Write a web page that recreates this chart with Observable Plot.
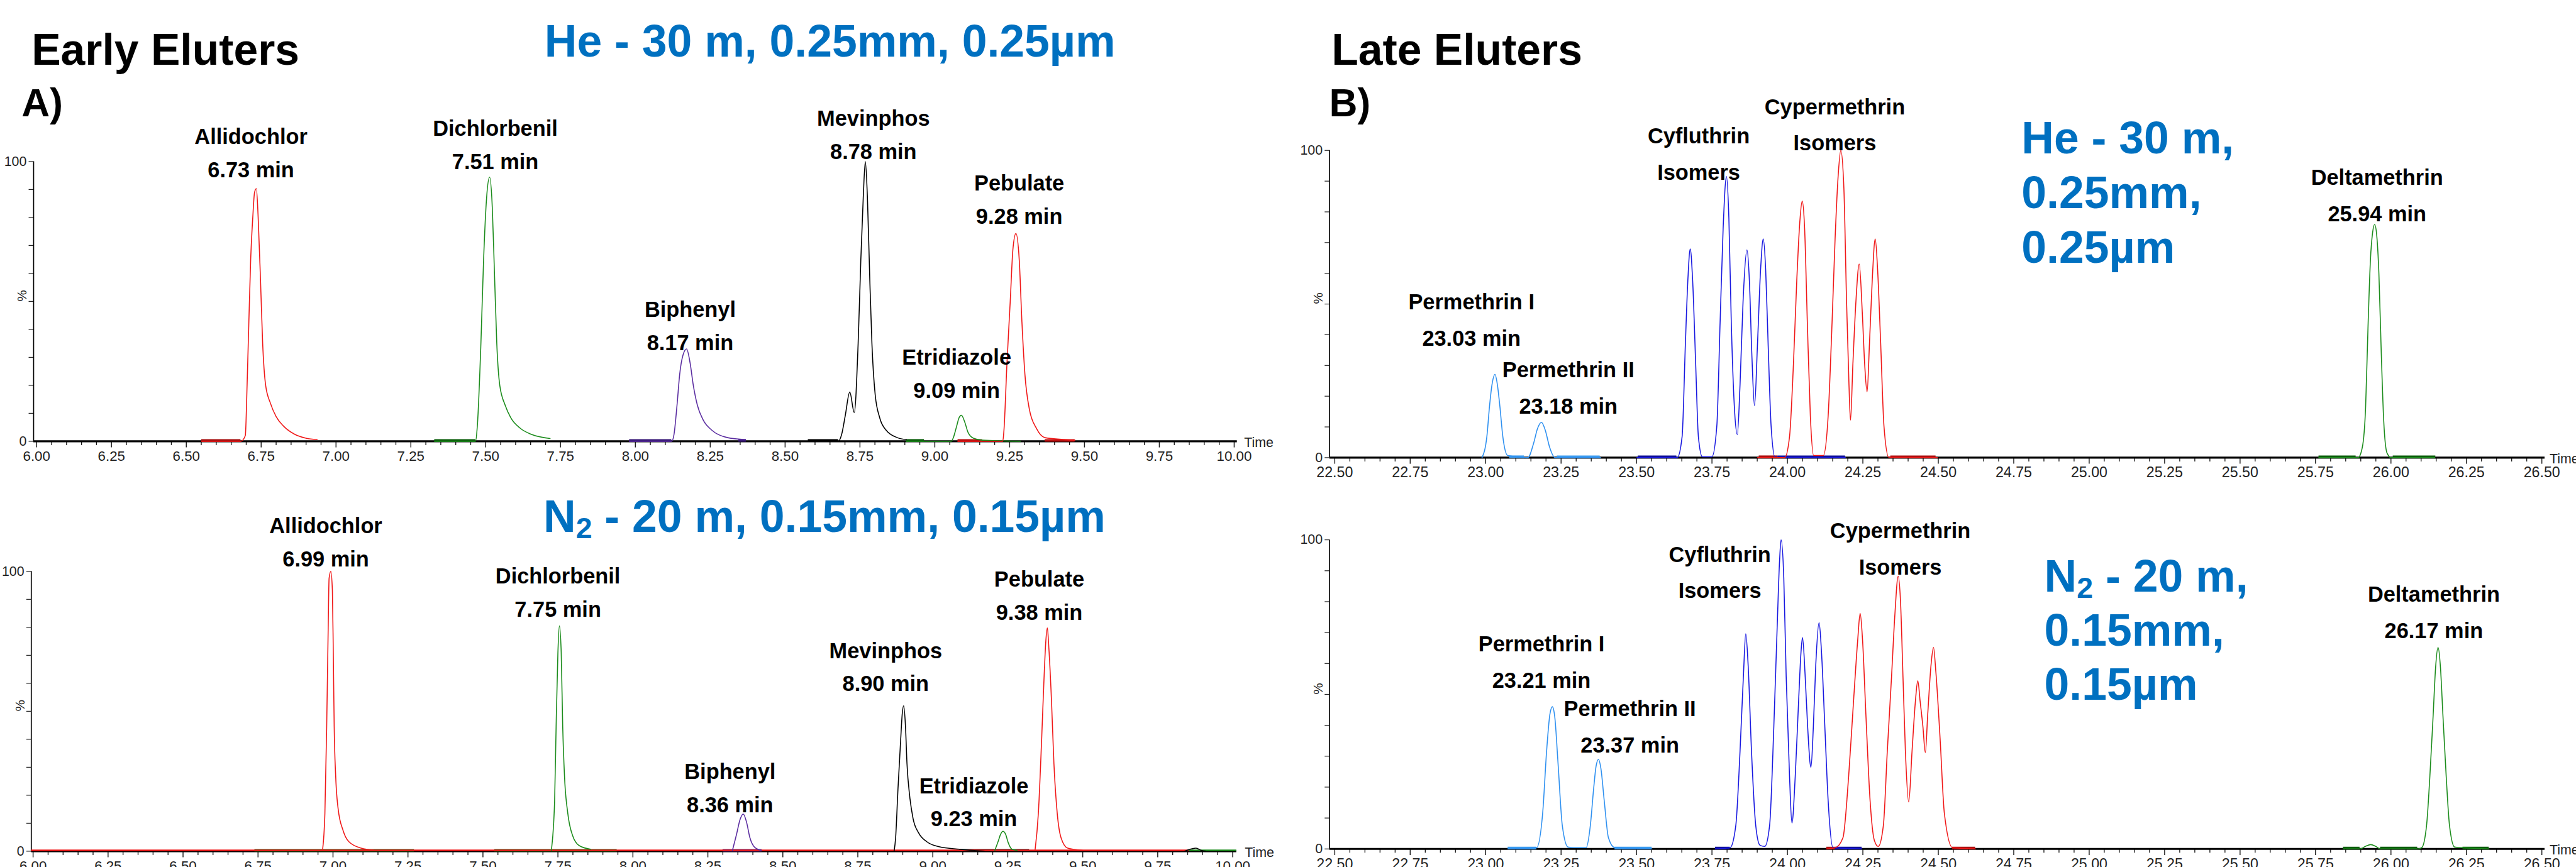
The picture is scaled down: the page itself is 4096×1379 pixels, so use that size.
<!DOCTYPE html>
<html><head><meta charset="utf-8">
<script src="https://cdn.jsdelivr.net/npm/d3@7"></script>
<script src="https://cdn.jsdelivr.net/npm/@observablehq/plot@0.6"></script>
<style>
html,body{margin:0;padding:0;background:#fff;}
#page{position:relative;width:4096px;height:1379px;overflow:hidden;font-family:"Liberation Sans",Arial,sans-serif;background:#fff;}
.t{position:absolute;white-space:nowrap;font-weight:bold;line-height:1;}
.t sub{font-size:0.65em;vertical-align:-0.22em;line-height:0;}
.plot{position:absolute;}
</style></head><body><div id="page"></div>
<script>
// ---------------- DATA ----------------
const earlyTicks = [6.00,6.25,6.50,6.75,7.00,7.25,7.50,7.75,8.00,8.25,8.50,8.75,9.00,9.25,9.50,9.75,10.00];
const lateTicks = [22.50,22.75,23.00,23.25,23.50,23.75,24.00,24.25,24.50,24.75,25.00,25.25,25.50,25.75,26.00,26.25,26.50];
const pctTicks = [0,10,20,30,40,50,60,70,80,90,100];
const pctLabelled = [0,100];

// He, early eluters: [compound, [[time(min), intensity(%)]...]]
const heEarlyTraces = [
  ["Allidochlor", [[6.551,0],[6.682,0],[6.697,2],[6.703,20],[6.709,43],[6.715,65],[6.722,80],[6.728,89],[6.734,90.3],[6.740,80],[6.748,57],[6.755,35],[6.765,20],[6.781,13.6],[6.800,8.8],[6.825,5.4],[6.862,2.5],[6.900,1.1],[6.937,0.6]]],
  ["Dichlorbenil", [[7.329,0],[7.466,0],[7.472,5.4],[7.484,35],[7.493,65],[7.503,87],[7.513,94.4],[7.522,83.6],[7.529,61],[7.537,35],[7.547,20],[7.565,12.9],[7.584,8.4],[7.615,4.7],[7.652,2.5],[7.715,1]]],
  ["Biphenyl", [[7.980,0],[8.121,0],[8.129,2.5],[8.139,12.9],[8.148,24],[8.159,30.8],[8.171,33],[8.183,27.8],[8.193,20.3],[8.207,12.9],[8.226,7.7],[8.256,3.9],[8.308,1.3],[8.368,0.6]]],
  ["Mevinphos", [[8.577,0],[8.678,0],[8.689,2.5],[8.701,9.2],[8.716,17.6],[8.731,10.3],[8.744,35],[8.753,65],[8.761,87],[8.768,100],[8.775,87],[8.783,57.5],[8.790,35],[8.801,16.6],[8.816,8.4],[8.838,3.9],[8.875,1.3],[8.905,0.6]]],
  ["Etridiazole", [[8.905,0],[9.055,0],[9.062,1.3],[9.073,5.4],[9.081,8.4],[9.089,9.3],[9.100,6.9],[9.111,3.2],[9.129,1.1],[9.159,0.4],[9.286,0]]],
  ["Pebulate", [[9.077,0],[9.227,0],[9.231,3.9],[9.241,27.8],[9.252,50],[9.261,68.7],[9.271,74.3],[9.282,65],[9.291,42.7],[9.301,24],[9.316,11.4],[9.339,4.7],[9.368,1.3],[9.468,0.4]]]
];
const heEarlyMarkers = [[6.551,6.682,"Allidochlor"],[7.329,7.466,"Dichlorbenil"],[7.980,8.121,"Biphenyl"],[8.345,8.370,"Biphenyl"],[8.577,8.678,"Mevinphos"],[8.905,8.965,"Etridiazole"],[9.077,9.159,"Pebulate"],[9.368,9.468,"Pebulate"]];
const heEarlyLabels = [["Allidochlor","6.73 min",6.716,114.7],["Dichlorbenil","7.51 min",7.532,117.6],["Biphenyl","8.17 min",8.183,52.9],["Mevinphos","8.78 min",8.795,121.2],["Etridiazole","9.09 min",9.073,35.8],["Pebulate","9.28 min",9.282,98.0]];

// N2, early eluters
const n2EarlyTraces = [
  ["Allidochlor", [[6.965,0.3],[6.973,13.5],[6.979,44.5],[6.984,79.8],[6.987,97.5],[6.993,100],[6.998,93.1],[7.001,71],[7.004,44.5],[7.009,26.8],[7.017,15.3],[7.034,7.3],[7.053,3.4],[7.094,1.1],[7.135,0.4]]],
  ["Dichlorbenil", [[7.728,0.3],[7.739,17.9],[7.744,44.5],[7.750,71],[7.755,80.5],[7.761,71],[7.766,44.5],[7.772,26.8],[7.783,13.5],[7.799,5.6],[7.821,2.0],[7.859,0.7]]],
  ["Biphenyl", [[8.332,0.3],[8.346,6.2],[8.357,11.2],[8.368,13.3],[8.379,10.4],[8.390,4.9],[8.406,1.4],[8.428,0.3]]],
  ["Mevinphos", [[8.871,0],[8.876,4.7],[8.884,22.4],[8.893,40],[8.898,48.9],[8.903,52],[8.909,44.5],[8.914,31.2],[8.923,19.7],[8.934,11.8],[8.953,6.5],[8.980,3.4],[9.021,1.6],[9.089,0.7],[9.171,0]]],
  ["Etridiazole", [[9.207,0.3],[9.218,3.5],[9.226,6],[9.234,7.1],[9.243,6],[9.251,3.2],[9.264,0.7],[9.281,0.3]]],
  ["Pebulate", [[9.341,0.3],[9.352,13.5],[9.363,40],[9.371,62],[9.377,75.2],[9.382,79.8],[9.387,72.7],[9.396,53.3],[9.404,31.2],[9.415,13.5],[9.428,4.7],[9.450,1.1],[9.499,0.3]]],
  ["Mevinphos", [[9.840,0],[9.862,0.8],[9.878,1.1],[9.895,0.3],[9.910,0]]]
];
const n2EarlyBaselines = [[5.994,9.855,"Pebulate"],[9.855,10.013,"Dichlorbenil"]];
const n2EarlyMarkers = [[6.739,7.271,"Dichlorbenil"],[7.539,7.947,"Dichlorbenil"],[8.300,8.430,"Biphenyl"],[9.089,9.322,"Mevinphos"]];
const n2EarlyLabels = [["Allidochlor","6.99 min",6.976,122.1],["Dichlorbenil","7.75 min",7.750,104.2],["Biphenyl","8.36 min",8.324,34.3],["Mevinphos","8.90 min",8.843,77.5],["Etridiazole","9.23 min",9.137,29.2],["Pebulate","9.38 min",9.355,103.1]];

// He, late eluters
const heLateTraces = [
  ["Permethrin", [[22.988,0],[23.004,6.8],[23.013,16.9],[23.021,23.7],[23.031,27.1],[23.039,23.7],[23.047,16.9],[23.057,6.8],[23.073,0.7],[23.140,0],[23.159,4.7],[23.172,9.5],[23.185,11.5],[23.198,8.8],[23.212,3.4],[23.230,0],[23.381,0]]],
  ["Cyfluthrin", [[23.501,0],[23.635,0],[23.651,6.8],[23.662,37.3],[23.670,57.6],[23.678,67.9],[23.686,57.6],[23.696,30.5],[23.705,6.8],[23.718,0.3],[23.750,0.3],[23.766,10.2],[23.777,44.1],[23.787,74.6],[23.798,91.5],[23.806,78],[23.814,44.1],[23.824,16.9],[23.834,7.5],[23.843,23.7],[23.853,50.8],[23.866,67.6],[23.874,57.6],[23.882,33.9],[23.891,16.9],[23.901,37.3],[23.911,61],[23.920,71.2],[23.928,61],[23.936,37.3],[23.946,10.2],[23.959,0.1],[24.192,0]]],
  ["Cypermethrin", [[23.901,0],[23.991,0],[24.007,6.8],[24.020,30.5],[24.031,57.6],[24.041,76.6],[24.049,83.5],[24.057,74.6],[24.066,44.1],[24.076,13.6],[24.087,0.7],[24.119,0.7],[24.135,13.6],[24.148,44.1],[24.158,71.2],[24.168,91.5],[24.177,100],[24.187,88],[24.196,50.8],[24.204,23.7],[24.209,12.2],[24.217,30.5],[24.227,50.8],[24.238,63],[24.248,47.5],[24.256,30.5],[24.264,21.4],[24.272,37.3],[24.281,57.6],[24.291,71.2],[24.299,61],[24.309,37.3],[24.320,10.2],[24.336,0.1],[24.497,0]]],
  ["Deltamethrin", [[25.761,0],[25.891,0],[25.905,3.3],[25.916,16.4],[25.924,42.6],[25.932,64.4],[25.939,73.1],[25.946,75.9],[25.953,72.2],[25.960,60],[25.968,33.8],[25.976,12],[25.987,1.5],[26.001,0],[26.145,0]]]
];
const heLateMarkers = [[23.079,23.128,"Permethrin"],[23.237,23.379,"Permethrin"],[23.505,23.633,"Cyfluthrin"],[23.906,23.968,"Cypermethrin"],[23.968,24.192,"Cyfluthrin"],[24.342,24.492,"Cypermethrin"],[25.761,25.884,"Deltamethrin"],[26.007,26.148,"Deltamethrin"]];
const heLateLabels = [["Permethrin I","23.03 min",22.953,56.6],["Permethrin II","23.18 min",23.274,34.5],["Cyfluthrin","Isomers",23.706,110.7],["Cypermethrin","Isomers",24.157,120.2],["Deltamethrin","25.94 min",25.954,97.2]];

// N2, late eluters
const n2LateTraces = [
  ["Permethrin", [[23.074,0],[23.169,0.4],[23.189,11.6],[23.202,31.6],[23.213,43.6],[23.221,46],[23.229,42.8],[23.240,27.6],[23.254,7.6],[23.273,0.6],[23.292,0.4],[23.333,0.4],[23.347,7.6],[23.358,19.6],[23.366,26.8],[23.374,29],[23.382,26],[23.393,15.6],[23.407,3.6],[23.428,0.4],[23.551,0]]],
  ["Cyfluthrin", [[23.761,0],[23.810,0.4],[23.829,7.6],[23.843,31.6],[23.854,55.6],[23.862,69.6],[23.870,59.2],[23.881,31.6],[23.895,7.6],[23.909,1.2],[23.925,0.8],[23.941,7.6],[23.955,39.6],[23.966,71.6],[23.974,93.2],[23.979,100],[23.988,87.6],[23.996,55.6],[24.007,23.6],[24.015,8.4],[24.026,23.6],[24.037,47.6],[24.045,63.6],[24.050,68.4],[24.059,55.6],[24.067,39.6],[24.078,26.4],[24.086,39.6],[24.094,59.6],[24.105,73.2],[24.113,63.6],[24.124,39.6],[24.135,15.6],[24.151,0.4],[24.247,0]]],
  ["Cypermethrin", [[24.130,0],[24.159,0.4],[24.184,3.6],[24.203,23.6],[24.219,47.6],[24.233,67.6],[24.241,76.2],[24.249,67.6],[24.260,43.6],[24.274,15.6],[24.288,2.8],[24.301,0.8],[24.318,7.6],[24.331,31.6],[24.345,55.6],[24.356,75.6],[24.367,88.2],[24.375,79.6],[24.383,55.6],[24.391,31.6],[24.402,15.2],[24.413,31.6],[24.424,47.6],[24.432,54.4],[24.440,47.6],[24.449,39.6],[24.457,31.2],[24.465,43.6],[24.476,59.6],[24.484,65.2],[24.492,57.2],[24.506,35.6],[24.520,11.6],[24.547,0.4],[24.623,0]]],
  ["Deltamethrin", [[25.842,0],[25.897,0],[25.915,0.8],[25.933,1.4],[25.950,0.8],[25.965,0],[26.088,0],[26.102,0.4],[26.118,7.6],[26.129,23.6],[26.140,43.6],[26.148,58.8],[26.156,65.2],[26.164,58.8],[26.172,43.6],[26.183,23.6],[26.194,7.6],[26.211,0.6],[26.238,0.4],[26.325,0]]]
];
const n2LateMarkers = [[23.074,23.169,"Permethrin"],[23.428,23.551,"Permethrin"],[23.761,23.810,"Cyfluthrin"],[24.130,24.159,"Cypermethrin"],[24.159,24.247,"Cyfluthrin"],[24.547,24.623,"Cypermethrin"],[25.842,25.897,"Deltamethrin"],[25.965,26.088,"Deltamethrin"],[26.238,26.325,"Deltamethrin"]];
const n2LateLabels = [["Permethrin I","23.21 min",23.185,72.3],["Permethrin II","23.37 min",23.478,51.3],["Cyfluthrin","Isomers",23.776,101.2],["Cypermethrin","Isomers",24.374,108.9],["Deltamethrin","26.17 min",26.142,88.3]];

// Headings
const pageTitles = ["Early Eluters","A)","Late Eluters","B)"];
const conditionHe = ["He - 30 m,","0.25mm,","0.25µm"];
const conditionN2 = ["N<sub>2</sub> - 20 m,","0.15mm,","0.15µm"];

// ---------------- STYLES / LAYOUT ----------------
const S = 0.929;
const FONT = "Liberation Sans, Arial, sans-serif";
const traceColor = {Allidochlor:"#f01818", Dichlorbenil:"#1c8c1c", Biphenyl:"#5a2ca0", Mevinphos:"#000000", Etridiazole:"#1c8c1c", Pebulate:"#f01818", Permethrin:"#2e90f0", Cyfluthrin:"#1818e0", Cypermethrin:"#f01818", Deltamethrin:"#1c8c1c"};
const markerColor = {Allidochlor:"#a51010", Dichlorbenil:"#0b5e0b", Biphenyl:"#3a1a78", Mevinphos:"#000000", Etridiazole:"#0b5e0b", Pebulate:"#b81010", Permethrin:"#3a9bf0", Cyfluthrin:"#10109a", Cypermethrin:"#b01010", Deltamethrin:"#0b5e0b"};

const page = document.getElementById("page");

function minorsOf(ticks) {
  const out = [];
  for (let i = 0; i < ticks.length - 1; i++) {
    const a = ticks[i], b = ticks[i + 1];
    for (let k = 1; k < 5; k++) out.push(a + k * (b - a) / 5);
  }
  return out;
}

function panel(o) {
  const marks = [];
  // y axis line and ticks
  marks.push(Plot.ruleX([o.xDomain[0]], {y1: 0, y2: 100, stroke: "#000", strokeWidth: 1.8 * S}));
  marks.push(Plot.axisY(pctTicks, {anchor: "left", tickSize: 8 * S, tickPadding: 4 * S, strokeWidth: 1.3 * S,
    tickFormat: d => pctLabelled.includes(d) ? String(d) : "", fontSize: 23 * S, color: "#222", label: null}));
  marks.push(Plot.text(["%"], {frameAnchor: "left", dx: -19 * S, y: 50, rotate: -90, fontSize: 22 * S, fill: "#222"}));
  // x axis
  marks.push(Plot.axisX(minorsOf(o.ticks), {anchor: "bottom", tickSize: 7 * S, strokeWidth: 1.4 * S, tickFormat: () => "", label: null, color: "#111"}));
  marks.push(Plot.axisX(o.ticks, {anchor: "bottom", tickSize: 11 * S, tickPadding: 5 * S, strokeWidth: 1.6 * S,
    tickFormat: d => d.toFixed(2), fontSize: o.tickFont * S, color: "#222", label: null}));
  marks.push(Plot.ruleY([0], {stroke: "#000", strokeWidth: 3.4 * S}));
  marks.push(Plot.text(["Time"], {frameAnchor: "bottom-right", dx: o.timeDx * S, dy: 2 * S, textAnchor: "start", lineAnchor: "middle", fontSize: 23 * S, fill: "#222"}));
  // integration markers
  for (const m of o.markers) {
    marks.push(Plot.ruleY([0], {x1: m[0], x2: m[1], stroke: markerColor[m[2]], strokeWidth: 4.5 * S, dy: -1.5 * S}));
  }
  for (const b of (o.baselines || [])) {
    marks.push(Plot.ruleY([0], {x1: b[0], x2: b[1], stroke: traceColor[b[2]], strokeWidth: 2.6 * S, dy: -1.5 * S}));
  }
  // traces
  for (const [name, pts] of o.traces) {
    marks.push(Plot.line(pts, {x: d => d[0], y: d => d[1], stroke: traceColor[name], strokeWidth: 1.7 * S, curve: "monotone-x"}));
  }
  // peak annotations
  marks.push(Plot.text(o.labels, {x: d => d[2], y: d => d[3], text: d => d[0] + "\n" + d[1],
    lineAnchor: "top", lineHeight: o.lineHeight, fontSize: 37 * S, fontWeight: "bold", fill: "#000"}));

  const svg = Plot.plot({
    width: o.width * S, height: o.height * S,
    marginLeft: o.ml * S, marginRight: o.mr * S, marginTop: o.mt * S, marginBottom: o.mb * S,
    x: {domain: o.xDomain, axis: null},
    y: {domain: [0, 100], axis: null},
    style: {background: "transparent", overflow: "visible", fontFamily: FONT, color: "#000"},
    marks
  });
  svg.classList.add("plot");
  svg.style.position = "absolute";
  svg.style.left = (o.left * S) + "px";
  svg.style.top = (o.top * S) + "px";
  svg.style.maxWidth = "none";
  page.appendChild(svg);
}

panel({traces: heEarlyTraces, markers: heEarlyMarkers, labels: heEarlyLabels, ticks: earlyTicks,
  xDomain: [5.990, 10.010], left: 0, top: 0, width: 2200, height: 810, ml: 57, mr: 83, mt: 276, mb: 55,
  tickFont: 24, timeDx: 12, lineHeight: 1.54});
panel({traces: n2EarlyTraces, markers: n2EarlyMarkers, baselines: n2EarlyBaselines, labels: n2EarlyLabels, ticks: earlyTicks,
  xDomain: [5.994, 10.013], left: 0, top: 820, width: 2200, height: 664, ml: 53, mr: 84, mt: 157.5, mb: 27.4,
  tickFont: 24, timeDx: 14, lineHeight: 1.54});
panel({traces: heLateTraces, markers: heLateMarkers, labels: heLateLabels, ticks: lateTicks,
  xDomain: [22.483, 26.510], left: 2200, top: 0, width: 2209, height: 830, ml: 75, mr: 54, mt: 257, mb: 47,
  tickFont: 25, timeDx: 8, lineHeight: 1.68});
panel({traces: n2LateTraces, markers: n2LateMarkers, labels: n2LateLabels, ticks: lateTicks,
  xDomain: [22.483, 26.510], left: 2200, top: 830, width: 2209, height: 654, ml: 75, mr: 54, mt: 93.8, mb: 31,
  tickFont: 25, timeDx: 8, lineHeight: 1.68});

// HTML text: position by baseline (reference px)
function addText(html, leftRef, baselineRef, sizeRef, color) {
  const F = sizeRef * S;
  const div = document.createElement("div");
  div.className = "t";
  div.style.left = (leftRef * S) + "px";
  div.style.top = (baselineRef * S - 0.8465 * F) + "px";
  div.style.fontSize = F + "px";
  div.style.color = color;
  div.innerHTML = html;
  page.appendChild(div);
}
const BLUE = "#0070c0";
addText(pageTitles[0], 54, 112, 75, "#000");
addText(pageTitles[1], 37, 200, 67, "#000");
addText(pageTitles[2], 2279, 112, 75, "#000");
addText(pageTitles[3], 2275, 200, 67, "#000");
addText(conditionHe.join(" "), 932, 98, 77, BLUE);
addText(conditionN2.join(" "), 930, 911, 77, BLUE);
conditionHe.forEach((s, i) => addText(s, 3460, 263 + i * 94, 77, BLUE));
conditionN2.forEach((s, i) => addText(s, 3499, 1013 + i * 93, 77, BLUE));
</script></body></html>
